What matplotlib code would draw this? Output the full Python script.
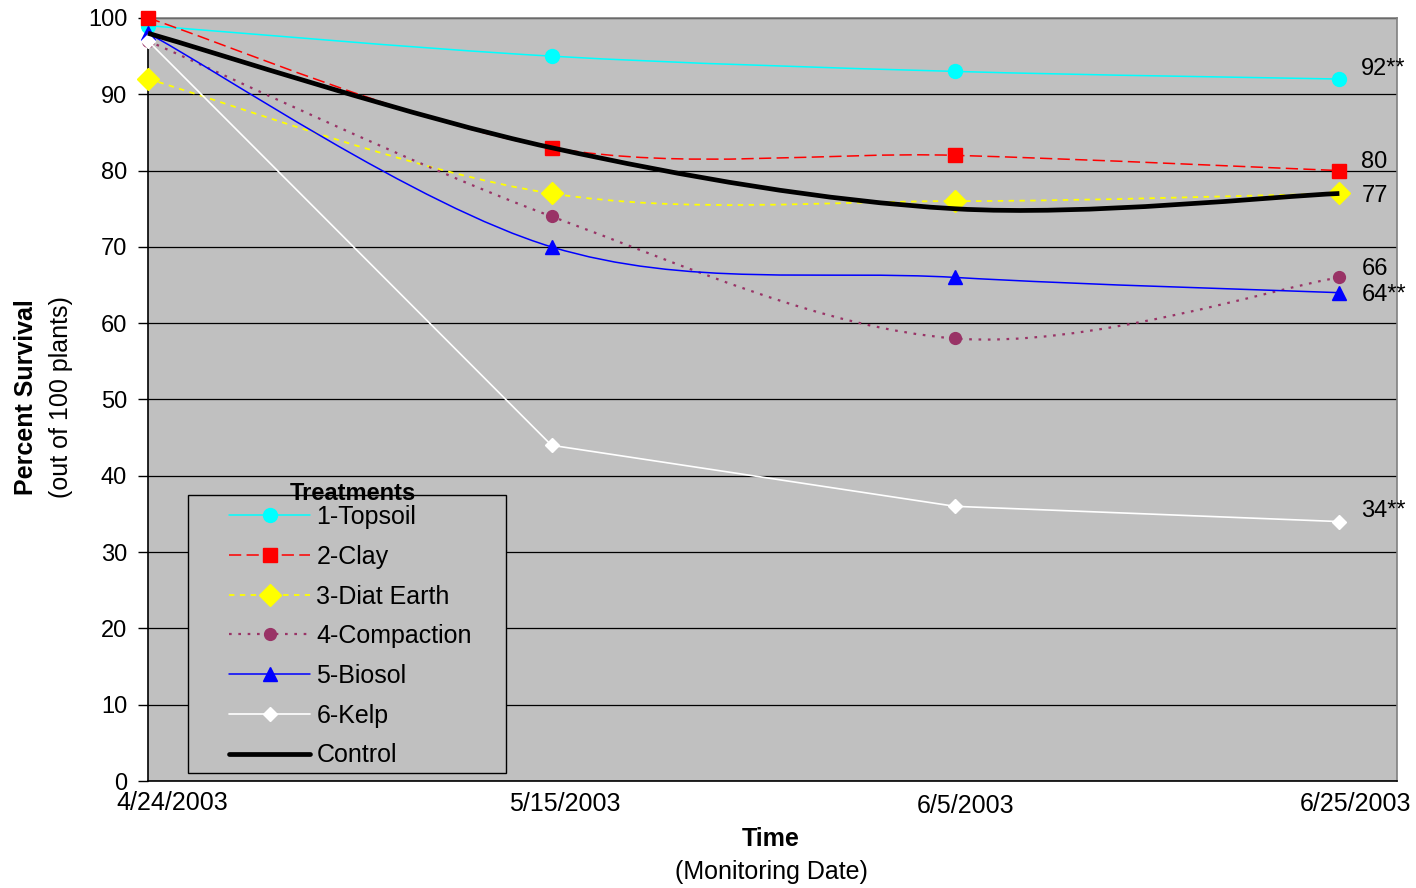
import datetime as dt
import numpy as np
import matplotlib
matplotlib.use("Agg")
import matplotlib.pyplot as plt
import matplotlib.dates as mdates
from matplotlib.path import Path
from matplotlib.patches import PathPatch, Rectangle
from matplotlib.lines import Line2D
from matplotlib.transforms import ScaledTranslation

plt.rcParams['font.family'] = ['Liberation Sans', 'DejaVu Sans']

# ---- data ----
dates = [dt.date(2003, 4, 24), dt.date(2003, 5, 15), dt.date(2003, 6, 5), dt.date(2003, 6, 25)]
date_labels = ["4/24/2003", "5/15/2003", "6/5/2003", "6/25/2003"]
series_names = ["1-Topsoil", "2-Clay", "3-Diat Earth", "4-Compaction", "5-Biosol", "6-Kelp", "Control"]
topsoil = [99, 95, 93, 92]
clay = [100, 83, 82, 80]
diat_earth = [92, 77, 76, 77]
compaction = [97, 74, 58, 66]
biosol = [98, 70, 66, 64]
kelp = [97, 44, 36, 34]
control = [98, 83, 75, 77]
end_labels = ["92**", "80", "77", "66", "64**", "34**"]
end_values = [92, 80, 77, 66, 64, 34]
y_ticks = list(range(0, 101, 10))

# ---- styles ----
series = [topsoil, clay, diat_earth, compaction, biosol, kelp, control]
styles = [
    dict(color="#00FFFF", ls="-", lw=1.1, marker="o", ms=10, smooth=True),
    dict(color="#FF0000", ls=(0, (8, 3.5)), lw=1.1, marker="s", ms=10, smooth=True),
    dict(color="#FFFF00", ls=(0, (3, 3)), lw=1.3, marker="D", ms=11, smooth=True),
    dict(color="#993366", ls=(0, (1.2, 3)), lw=1.6, marker="o", ms=8.5, smooth=True),
    dict(color="#0000FF", ls="-", lw=1.1, marker="^", ms=10, smooth=True),
    dict(color="#FFFFFF", ls="-", lw=1.2, marker="D", ms=7, smooth=False),
    dict(color="#000000", ls="-", lw=3.4, marker=None, ms=0, smooth=True),
]
end_label_dy = [10, 9, -3, 8, -2, 11]          # pixel nudges of the end labels (upwards)
xlabel_dx = [24, 13, 11, 16]                    # pixel nudges of the date labels
xlabel_dy = [0, -1, -3, -1]

fig = plt.figure(figsize=(14.16, 8.88), dpi=100)
W, H = 1416, 888
ax = fig.add_axes([148 / W, 1 - 781 / H, (1397 - 148) / W, (781 - 18) / H])
ax.set_facecolor("#C0C0C0")

xnum = mdates.date2num(dates)


def line_path(x, y, smooth):
    x = np.asarray(x, float)
    y = np.asarray(y, float)
    n = len(x)
    verts = [(x[0], y[0])]
    codes = [Path.MOVETO]
    for i in range(n - 1):
        if smooth:
            i0 = max(i - 1, 0)
            i3 = min(i + 2, n - 1)
            c1 = (x[i] + (x[i + 1] - x[i0]) / 6, y[i] + (y[i + 1] - y[i0]) / 6)
            c2 = (x[i + 1] - (x[i3] - x[i]) / 6, y[i + 1] - (y[i3] - y[i]) / 6)
            verts += [c1, c2, (x[i + 1], y[i + 1])]
            codes += [Path.CURVE4] * 3
        else:
            verts.append((x[i + 1], y[i + 1]))
            codes.append(Path.LINETO)
    return Path(verts, codes)


handles = []
for z, (vals, st) in enumerate(zip(series, styles)):
    z = 3 + z
    p = PathPatch(line_path(xnum, vals, st["smooth"]), facecolor="none", edgecolor=st["color"],
                  lw=st["lw"], ls=st["ls"], zorder=z, clip_on=False, capstyle="butt",
                  joinstyle="round")
    ax.add_patch(p)
    if st["marker"]:
        ax.plot(xnum, vals, ls="none", marker=st["marker"], ms=st["ms"], mfc=st["color"],
                mec=st["color"], zorder=z + 0.5, clip_on=False)
    handles.append(Line2D([], [], color=st["color"], lw=st["lw"], ls=st["ls"],
                          marker=st["marker"], ms=st["ms"], mfc=st["color"], mec=st["color"],
                          solid_capstyle="round"))

ax.set_xlim(xnum[0], xnum[0] + 65)
ax.set_ylim(0, 100)
ax.set_yticks(y_ticks)
ax.set_yticklabels([str(v) for v in y_ticks])
ax.set_xticks(xnum)
ax.set_xticklabels(date_labels)
ax.tick_params(axis="y", length=7, width=1, color="black", pad=8, labelsize=17)
ax.tick_params(axis="x", length=0, pad=7, labelsize=18)
for lab, dx, dy in zip(ax.get_xticklabels(), xlabel_dx, xlabel_dy):
    lab.set_transform(lab.get_transform() + ScaledTranslation(dx / 100, dy / 100, fig.dpi_scale_trans))

ax.grid(axis="y", color="black", lw=0.9, zorder=1)
ax.set_axisbelow(True)
for s in ["left", "bottom"]:
    ax.spines[s].set_color("black")
    ax.spines[s].set_linewidth(1.2)
for s in ["top", "right"]:
    ax.spines[s].set_color("#808080")
    ax.spines[s].set_linewidth(1.2)

# end-point labels
for txt, v, dy in zip(end_labels, end_values, end_label_dy):
    ax.annotate(txt, xy=(xnum[-1], v), xytext=(22, dy), textcoords="offset pixels",
                ha="left", va="center", fontsize=17)

# legend box
x0, x1 = (188 - 148) / 1249, (506 - 148) / 1249
y0, y1 = (781 - 773) / 763, (781 - 495) / 763
ax.add_patch(Rectangle((x0, y0), x1 - x0, y1 - y0, transform=ax.transAxes, facecolor="#C0C0C0",
                       edgecolor="black", lw=1.0, zorder=20))
leg = ax.legend(handles, series_names, loc="upper left",
                bbox_to_anchor=((229 - 148) / 1249, (781 - 505) / 763),
                frameon=False, fontsize=18, handlelength=3.25, handletextpad=0.25,
                borderpad=0, borderaxespad=0, labelspacing=0.63)
leg.set_zorder(21)
ax.text((353 - 148) / 1249, (781 - 493) / 763, "Treatments", transform=ax.transAxes,
        ha="center", va="center", fontsize=17, fontweight="bold", zorder=22)

# axis titles
fig.text(26 / W, 1 - 397 / H, "Percent Survival", rotation=90, ha="center", va="center",
         fontsize=18, fontweight="bold")
fig.text(61 / W, 1 - 397 / H, "(out of 100 plants)", rotation=90, ha="center", va="center",
         fontsize=18)
fig.text(771 / W, 1 - 839 / H, "Time", ha="center", va="center", fontsize=18, fontweight="bold")
fig.text(771 / W, 1 - 872 / H, "(Monitoring Date)", ha="center", va="center", fontsize=18)

fig.savefig("out.png", dpi=100)
